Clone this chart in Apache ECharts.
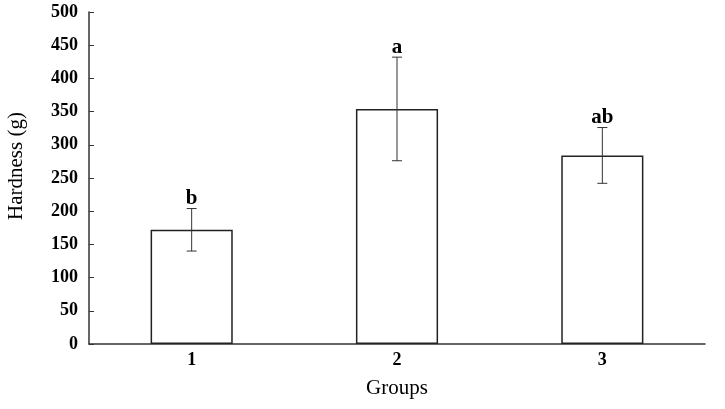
<!DOCTYPE html>
<html>
<head>
<meta charset="utf-8">
<script src="https://cdn.jsdelivr.net/npm/echarts@6/dist/echarts.min.js"></script>
<style>
  html, body { margin: 0; padding: 0; background: #fff; }
  #app { width: 725px; height: 409px; }
</style>
</head>
<body>
<div id="app"></div>
<script>
var groups = ['1', '2', '3'];
var hardness = [172, 354, 284];
var errors = [32, 78, 42];
var letters = ['b', 'a', 'ab'];
var yTicks = [0, 50, 100, 150, 200, 250, 300, 350, 400, 450, 500];

var serif = '"Liberation Serif", "Times New Roman", serif';

var errData = [];
for (var i = 0; i < groups.length; i++) {
  errData.push([i, hardness[i] - errors[i], hardness[i] + errors[i], letters[i]]);
}

var myChart = echarts.init(document.getElementById('app'));

myChart.setOption({
  backgroundColor: '#fff',
  animation: false,
  grid: {
    left: 89,
    right: 20,
    top: 12,
    bottom: 65,
    containLabel: false,
    outerBoundsMode: 'none'
  },
  xAxis: {
    type: 'category',
    data: groups,
    name: 'Groups',
    nameLocation: 'middle',
    nameGap: 34,
    nameTextStyle: { fontFamily: serif, fontSize: 21, color: '#000' },
    axisLine: { lineStyle: { color: '#333', width: 1.5 } },
    axisTick: { inside: true, length: 5, lineStyle: { color: '#333' } },
    axisLabel: { fontFamily: serif, fontWeight: 'bold', fontSize: 18, color: '#000', margin: 7 }
  },
  yAxis: {
    type: 'value',
    min: yTicks[0],
    max: yTicks[yTicks.length - 1],
    interval: 50,
    name: 'Hardness (g)',
    nameLocation: 'middle',
    nameGap: 62,
    nameTextStyle: { fontFamily: serif, fontSize: 21, color: '#000', padding: [0, 0, 0, 24] },
    axisLine: { show: true, lineStyle: { color: '#333', width: 1.5 } },
    axisTick: { show: true, inside: true, length: 5, lineStyle: { color: '#333' } },
    axisLabel: { fontFamily: serif, fontWeight: 'bold', fontSize: 18, color: '#000', margin: 11 },
    splitLine: { show: false }
  },
  series: [
    {
      type: 'bar',
      data: hardness,
      barWidth: '40%',
      itemStyle: {
        color: '#fff',
        borderColor: '#222',
        borderWidth: 1.5
      }
    },
    {
      type: 'custom',
      data: errData,
      z: 10,
      renderItem: function (params, api) {
        var x = api.value(0);
        var lo = api.coord([x, api.value(1)]);
        var hi = api.coord([x, api.value(2)]);
        var half = 5;
        var style = { stroke: '#333', lineWidth: 1 };
        return {
          type: 'group',
          children: [
            { type: 'line', shape: { x1: hi[0], y1: hi[1], x2: lo[0], y2: lo[1] }, style: style },
            { type: 'line', shape: { x1: hi[0] - half, y1: hi[1], x2: hi[0] + half, y2: hi[1] }, style: style },
            { type: 'line', shape: { x1: lo[0] - half, y1: lo[1], x2: lo[0] + half, y2: lo[1] }, style: style },
            {
              type: 'text',
              x: hi[0],
              y: hi[1] + 1,
              style: {
                text: errData[params.dataIndex][3],
                fontFamily: serif,
                fontWeight: 'bold',
                fontSize: 21,
                fill: '#000',
                align: 'center',
                verticalAlign: 'bottom'
              }
            }
          ]
        };
      }
    }
  ]
});
</script>
</body>
</html>
